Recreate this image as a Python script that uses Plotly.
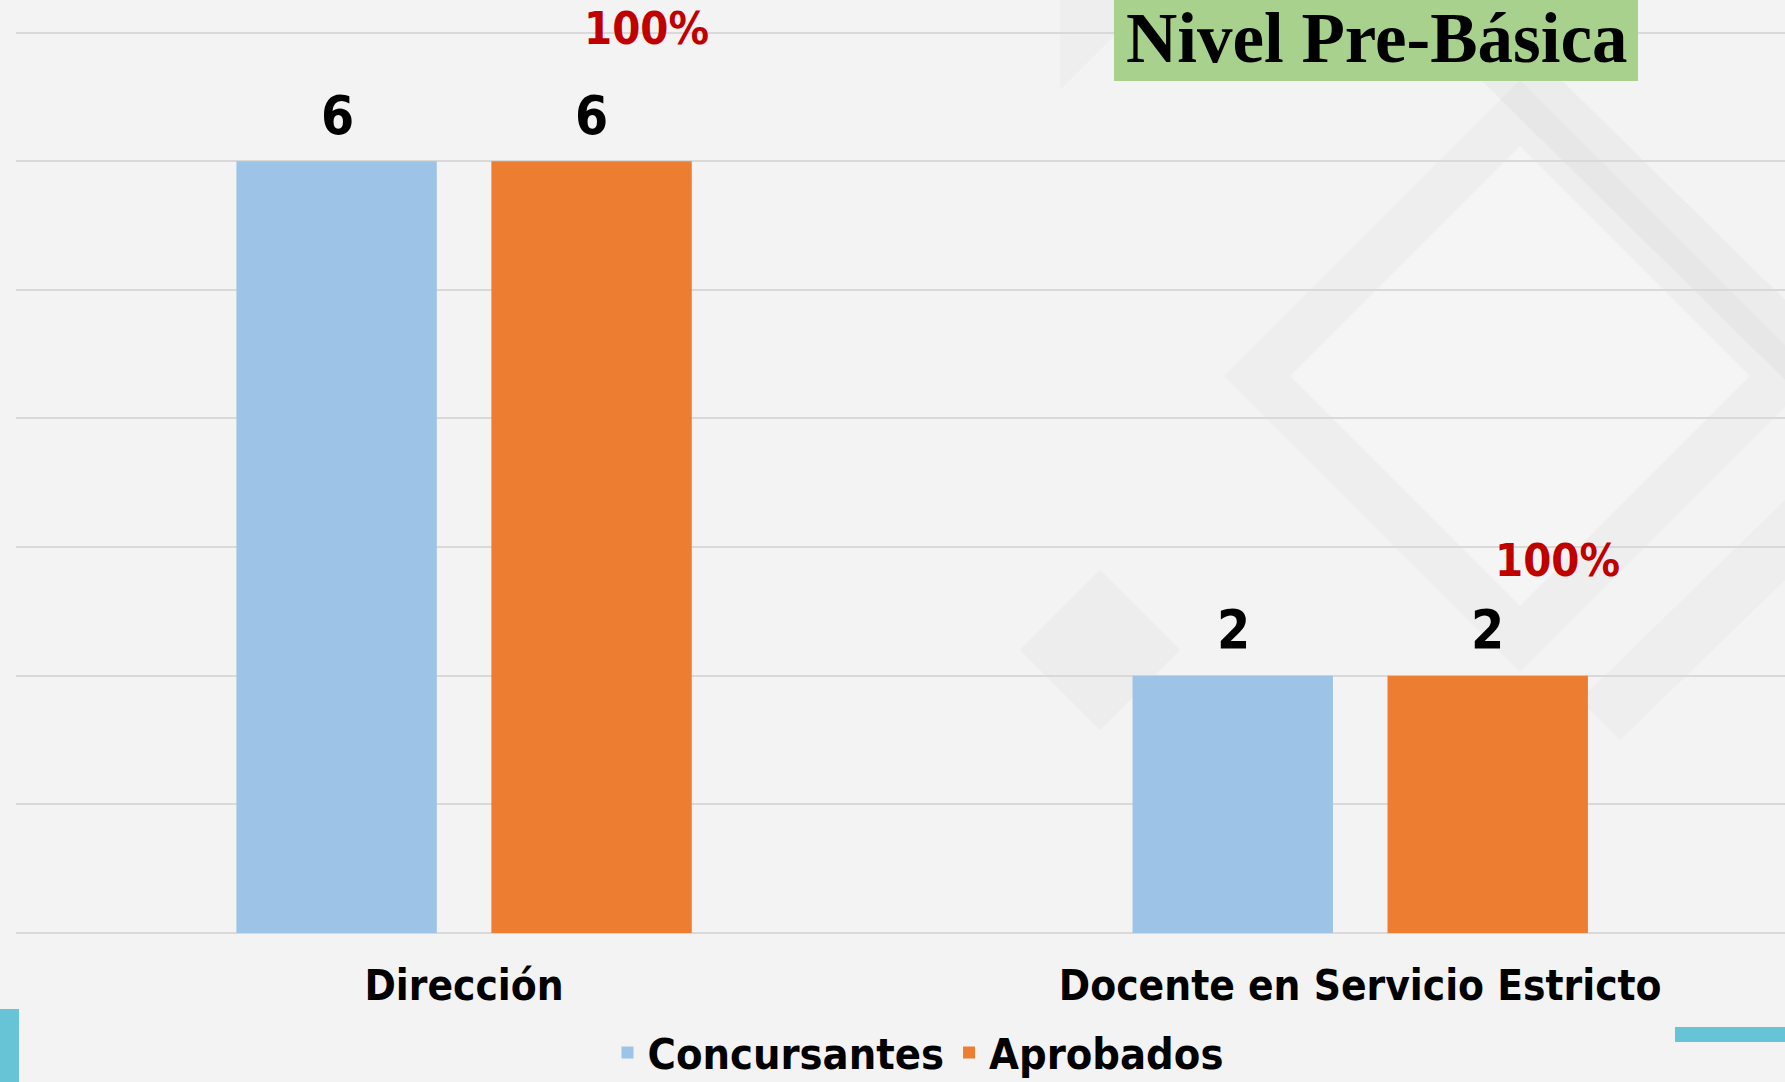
import plotly.graph_objects as go

# ---- data ----
categories = ["Dirección", "Docente en Servicio Estricto"]
concursantes = [6, 2]
aprobados = [6, 2]
series_names = ["Concursantes", "Aprobados"]
y_ticks = [0, 1, 2, 3, 4, 5, 6, 7]

W, H = 1785, 1082
ML, MR, MT, MB = 16, 0, 30, 149
PW, PH = W - ML - MR, H - MT - MB

def px(x):
    return (x - ML) / PW

def py(y):
    return (H - MB - y) / PH

NARROW = "Liberation Sans Narrow, DejaVu Sans Condensed, Arial Narrow, sans-serif"
BLUE = "#9DC3E6"
ORANGE = "#ED7D31"

fig = go.Figure()
fig.add_trace(go.Bar(name=series_names[0], x=categories, y=concursantes,
                     marker=dict(color=BLUE, line=dict(width=0))))
fig.add_trace(go.Bar(name=series_names[1], x=categories, y=aprobados,
                     marker=dict(color=ORANGE, line=dict(width=0))))

annotations = []
# value labels
for i, cat in enumerate(categories):
    for shift, val in ((-127, concursantes[i]), (127, aprobados[i])):
        annotations.append(dict(x=cat, y=val, xref="x", yref="y", xshift=shift,
                                yshift=46, text=str(val), showarrow=False,
                                yanchor="middle",
                                font=dict(family=NARROW, size=53, color="black",
                                          weight="bold")))
# percentage labels
pct_shift = [(182, 133), (197, 115)]
for i, cat in enumerate(categories):
    pct = round(aprobados[i] / concursantes[i] * 100)
    annotations.append(dict(x=cat, y=aprobados[i], xref="x", yref="y",
                            xshift=pct_shift[i][0], yshift=pct_shift[i][1],
                            text=f"{pct}%", showarrow=False, yanchor="middle",
                            font=dict(family=NARROW, size=45, color="#C00000",
                                      weight="bold")))
# title
annotations.append(dict(x=px(1376), y=py(38), xref="paper", yref="paper",
                        text="<b>Nivel Pre-Básica</b>", showarrow=False,
                        xanchor="center", yanchor="middle",
                        font=dict(family="Liberation Serif, DejaVu Serif, serif",
                                  size=71, color="black")))

shapes = []
# decorative background diamonds/bands
def poly(pts, color, opacity):
    path = "M " + " L ".join(f"{px(x)},{py(y)}" for x, y in pts) + " Z"
    return dict(type="path", xref="paper", yref="paper", path=path,
                fillcolor=color, opacity=opacity, line=dict(width=0), layer="below")

shapes.append(poly([(1224, 376), (1520, 80), (1816, 376), (1520, 672)], "#C8C8C8", 0.10))
shapes.append(poly([(1290, 376), (1520, 146), (1750, 376), (1520, 606)], "#F6F6F6", 0.85))
shapes.append(poly([(1400, 0), (1480, 0), (1785, 300), (1785, 380)], "#B0B0B0", 0.10))
shapes.append(poly([(1580, 700), (1785, 500), (1785, 580), (1620, 740)], "#B0B0B0", 0.08))
shapes.append(poly([(1020, 650), (1100, 570), (1180, 650), (1100, 730)], "#D0D0D0", 0.15))
shapes.append(poly([(1060, 0), (1150, 0), (1060, 90)], "#D0D0D0", 0.12))
# title box
shapes.append(dict(type="rect", xref="paper", yref="paper",
                   x0=px(1114), x1=px(1638), y0=py(81), y1=py(0),
                   fillcolor="#A9D18E", line=dict(width=0), layer="above"))
# cyan accents
shapes.append(dict(type="rect", xref="paper", yref="paper",
                   x0=px(0), x1=px(19), y0=py(1082), y1=py(1009),
                   fillcolor="#67C4D6", line=dict(width=0)))
shapes.append(dict(type="rect", xref="paper", yref="paper",
                   x0=px(1675), x1=px(1785), y0=py(1042), y1=py(1027),
                   fillcolor="#67C4D6", line=dict(width=0)))

fig.update_layout(
    width=W, height=H,
    margin=dict(l=ML, r=MR, t=MT, b=MB, autoexpand=False),
    paper_bgcolor="#F3F3F3",
    plot_bgcolor="rgba(0,0,0,0)",
    barmode="group", bargap=0.431, bargroupgap=0.214,
    showlegend=True,
    legend=dict(orientation="h", x=px(918), xanchor="center", y=py(1018),
                yanchor="top",
                font=dict(family=NARROW, size=43, color="black", weight="bold"),
                bgcolor="rgba(0,0,0,0)", itemwidth=30, traceorder="normal"),
    xaxis=dict(type="category", range=[-0.5, 1.474], showgrid=False,
               showline=False, zeroline=False, ticks="outside", ticklen=16,
               tickcolor="rgba(0,0,0,0)",
               tickfont=dict(family=NARROW, size=42, color="black", weight="bold")),
    yaxis=dict(range=[0, 7.02], tickvals=y_ticks, showticklabels=False,
               showgrid=True, gridcolor="#D9D9D9", gridwidth=2,
               zeroline=True, zerolinecolor="#D9D9D9", zerolinewidth=2,
               showline=False),
    annotations=annotations,
    shapes=shapes,
    font=dict(family=NARROW),
)

fig.write_html("out.html", config={"displayModeBar": False},
               post_script="document.body.style.margin='0';document.body.style.background='#F3F3F3';")
